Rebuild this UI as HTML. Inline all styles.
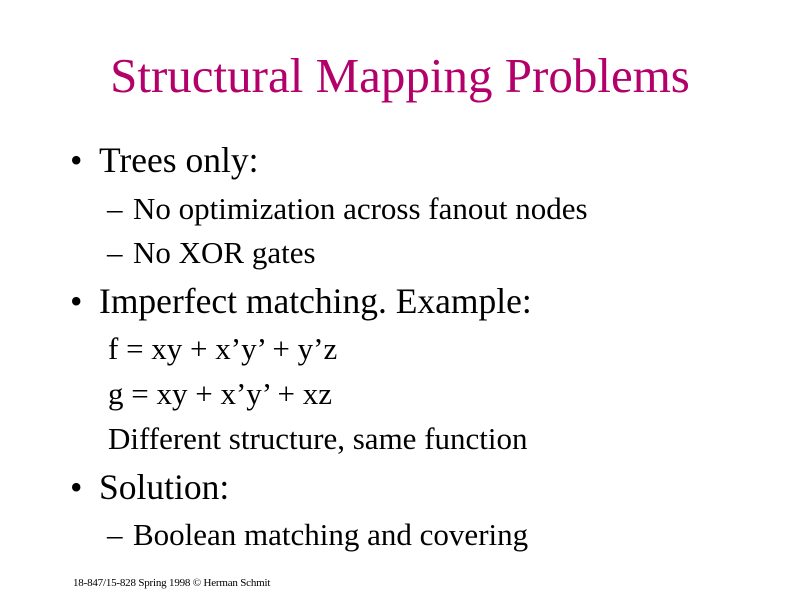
<!DOCTYPE html>
<html><head><meta charset="utf-8"><style>
html,body{margin:0;padding:0;background:#fff;}
body{width:800px;height:600px;position:relative;overflow:hidden;font-family:"Liberation Serif",serif;color:#000;}
div{position:absolute;line-height:1;white-space:nowrap;}
.t{font-size:49px;color:#b3006b;left:0;width:800px;text-align:center;top:51px;}
.m{font-size:35.5px;}
.s{font-size:31px;}
.d{display:inline-block;width:26px;}
</style></head><body>
<div class="t">Structural Mapping Problems</div>
<div class="m" style="left:70px;top:143px">•</div><div class="m" style="left:99px;top:143px">Trees only:</div>
<div class="s" style="left:107px;top:193px"><span class="d">–</span>No optimization across fanout nodes</div>
<div class="s" style="left:107px;top:237px"><span class="d">–</span>No XOR gates</div>
<div class="m" style="left:70px;top:284px">•</div><div class="m" style="left:99px;top:284px">Imperfect matching. Example:</div>
<div class="s" style="left:108px;top:333px">f = xy + x’y’ + y’z</div>
<div class="s" style="left:108px;top:378px">g = xy + x’y’ + xz</div>
<div class="s" style="left:108px;top:423px">Different structure, same function</div>
<div class="m" style="left:70px;top:470px">•</div><div class="m" style="left:99px;top:470px">Solution:</div>
<div class="s" style="left:107px;top:519px"><span class="d">–</span>Boolean matching and covering</div>
<div style="left:73px;top:578px;font-size:11px;letter-spacing:-0.2px">18-847/15-828 Spring 1998 © Herman Schmit</div>
</body></html>
